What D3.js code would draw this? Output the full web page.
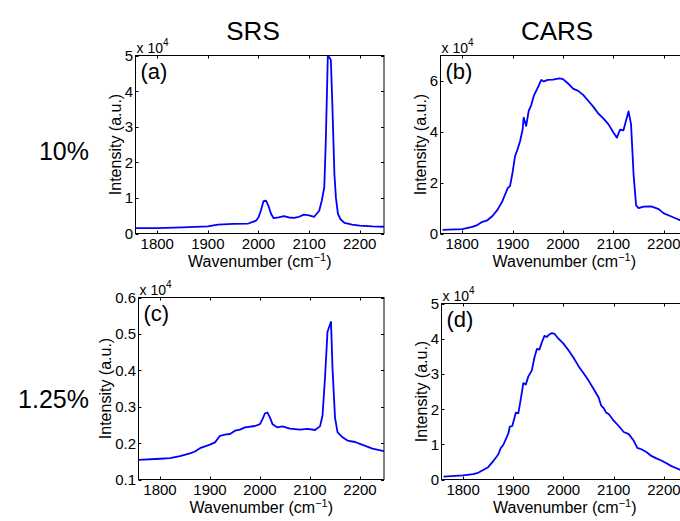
<!DOCTYPE html>
<html>
<head>
<meta charset="utf-8">
<script src="https://cdn.jsdelivr.net/npm/d3@7"></script>
<style>
  body { margin: 0; background: #fff; }
  text { font-family: "Liberation Sans", Arial, sans-serif; fill: #000; }
</style>
</head>
<body>
<svg id="fig" width="680" height="521"></svg>
<script>
// spectra: [wavenumber (cm^-1), intensity (a.u.)]
const srs10 = [[1757,1500],[1800,1500],[1850,1700],[1900,2000],[1920,2500],[1950,2700],[1980,2800],[1995,3600],
  [2000,4500],[2005,6600],[2010,9100],[2015,9200],[2020,7600],[2025,5500],[2030,4300],[2040,4500],[2050,4900],
  [2060,4500],[2070,4400],[2080,4700],[2090,5300],[2100,5100],[2110,4700],[2120,6400],[2125,9200],[2130,13000],
  [2133,26000],[2137,49800],[2140,49500],[2143,48700],[2146,36000],[2150,16700],[2153,10000],[2157,5500],
  [2162,4000],[2170,3000],[2185,2500],[2200,2200],[2225,2000],[2248,1900]];

const cars10 = [[1761,1400],[1800,1700],[1820,2600],[1830,3300],[1840,4600],[1850,5200],[1860,6900],[1870,9300],
  [1880,12800],[1890,17700],[1895,18700],[1900,24000],[1905,30500],[1910,33200],[1915,36400],[1920,41000],
  [1922,45600],[1927,42300],[1932,48200],[1937,50500],[1942,54100],[1950,57400],[1957,60400],[1962,59800],
  [1970,60400],[1980,60500],[1993,61000],[2000,60700],[2010,59000],[2020,57000],[2030,56100],[2040,54500],
  [2050,52200],[2060,49900],[2070,47200],[2080,45300],[2090,43000],[2100,39700],[2107,37700],[2113,40800],
  [2120,40600],[2125,44300],[2130,48000],[2135,43000],[2140,23300],[2145,11100],[2150,10000],[2160,10600],
  [2175,10700],[2190,9600],[2200,7900],[2215,6700],[2230,5400],[2248,4500]];

const srs125 = [[1757,1540],[1800,1570],[1820,1590],[1840,1640],[1860,1720],[1870,1770],[1880,1860],[1900,1960],
  [1910,2020],[1920,2200],[1930,2230],[1940,2250],[1950,2340],[1960,2370],[1970,2430],[1990,2470],[2000,2520],
  [2005,2660],[2010,2820],[2015,2840],[2020,2700],[2025,2520],[2035,2430],[2045,2460],[2060,2400],[2080,2370],
  [2095,2390],[2110,2360],[2120,2460],[2125,2750],[2130,3790],[2135,5060],[2140,5260],[2142,5330],[2145,4060],
  [2150,2700],[2155,2300],[2165,2160],[2175,2070],[2190,2030],[2200,1980],[2225,1850],[2248,1780]];

const cars125 = [[1761,800],[1800,1200],[1820,1500],[1830,1900],[1840,2700],[1850,3500],[1860,5200],[1870,7100],
  [1875,8900],[1880,9800],[1890,13000],[1893,15000],[1898,15200],[1905,19000],[1910,18800],[1915,22900],
  [1920,27400],[1925,27000],[1930,29300],[1937,31000],[1942,34600],[1947,37100],[1952,36900],[1957,39000],
  [1962,40800],[1967,40500],[1972,41200],[1977,41600],[1982,41400],[1990,40000],[2000,38600],[2010,36700],
  [2020,34600],[2030,32200],[2040,30200],[2050,28100],[2060,25700],[2070,23300],[2075,21000],[2080,20300],
  [2085,19000],[2090,18600],[2100,16700],[2110,15200],[2120,13500],[2130,12900],[2140,11000],[2147,9000],
  [2155,8600],[2165,7800],[2175,6700],[2185,6000],[2195,5400],[2205,4600],[2215,3800],[2225,3200],
  [2235,2600],[2248,2000]];

const columnTitles = ["SRS", "CARS"];
const rowTitles = ["10%", "1.25%"];
const panelLetters = ["(a)", "(b)", "(c)", "(d)"];
const xRange = [1757, 2248];
const xTicks = [1800, 1900, 2000, 2100, 2200];
const yTicksA = [0, 10000, 20000, 30000, 40000, 50000];
const yTicksB = [0, 20000, 40000, 60000];
const yTicksC = [1000, 2000, 3000, 4000, 5000, 6000];
const yTicksD = [0, 10000, 20000, 30000, 40000, 50000];

// subplot boxes (pixels): left, right, top, bottom
const panels = [
  { data: srs10,  yDom: [0, 50000],    yTicks: yTicksA, fmt: d => d / 1e4,              box: [135.5, 384, 55.5, 233.5] },
  { data: cars10, yDom: [0, 70000],    yTicks: yTicksB, fmt: d => d / 1e4,              box: [440.5, 688, 55.5, 233.5] },
  { data: srs125, yDom: [1000, 6000],  yTicks: yTicksC, fmt: d => (d / 1e4).toFixed(1), box: [138.5, 384, 297.5, 479.5] },
  { data: cars125, yDom: [0, 50000],   yTicks: yTicksD, fmt: d => d / 1e4,              box: [441.5, 688, 303.5, 479.5] }
];

const svg = d3.select("#fig");
const tickLen = 3;

panels.forEach((p, i) => {
  const [l, r, t, b] = p.box;
  const x = d3.scaleLinear().domain(xRange).range([l, r]);
  const y = d3.scaleLinear().domain(p.yDom).range([b, t]);
  const g = svg.append("g");

  g.append("clipPath").attr("id", "clip" + i)
    .append("rect").attr("x", l).attr("y", t - 1).attr("width", r - l).attr("height", b - t + 1);

  // ticks on all four sides, pointing inwards
  xTicks.forEach(v => {
    const xv = Math.round(x(v)) + 0.5;
    g.append("line").attr("x1", xv).attr("x2", xv).attr("y1", b).attr("y2", b - tickLen).attr("stroke", "#000");
    g.append("line").attr("x1", xv).attr("x2", xv).attr("y1", t).attr("y2", t + tickLen).attr("stroke", "#000");
    g.append("text").attr("x", x(v)).attr("y", b + 15).attr("text-anchor", "middle")
      .style("font-size", "15px").text(v);
  });
  let maxW = 0;
  p.yTicks.forEach(v => {
    const yv = Math.round(y(v)) + 0.5;
    g.append("line").attr("x1", l).attr("x2", l + tickLen).attr("y1", yv).attr("y2", yv).attr("stroke", "#000");
    g.append("line").attr("x1", r).attr("x2", r - tickLen).attr("y1", yv).attr("y2", yv).attr("stroke", "#000");
    const tx = g.append("text").attr("x", l - 2.5).attr("y", y(v)).attr("dy", "0.36em")
      .attr("text-anchor", "end").style("font-size", "15px").text(p.fmt(v));
    maxW = Math.max(maxW, tx.node().getComputedTextLength());
  });

  // spectrum
  const line = d3.line().x(d => x(d[0])).y(d => y(d[1]));
  g.append("path").datum(p.data).attr("d", line)
    .attr("clip-path", `url(#clip${i})`)
    .attr("fill", "none").attr("stroke", "#0000ff").attr("stroke-width", 1.8)
    .attr("stroke-linejoin", "round");

  g.append("rect").attr("x", l).attr("y", t).attr("width", r - l).attr("height", b - t)
    .attr("fill", "none").attr("stroke", "#000").attr("stroke-width", 1);

  // exponent label
  const ex = g.append("text").attr("x", l + 1).attr("y", t - 3).style("font-size", "14px");
  ex.append("tspan").text("x 10");
  ex.append("tspan").attr("dy", -7).style("font-size", "10px").text("4");

  g.append("text").attr("x", l + 5).attr("y", t + 23).style("font-size", "22px").text(panelLetters[i]);

  g.append("text").attr("x", (l + r) / 2).attr("y", b + 33).attr("text-anchor", "middle")
    .style("font-size", "16px")
    .call(s => {
      s.append("tspan").text("Wavenumber (cm");
      s.append("tspan").attr("dy", -6).style("font-size", "11px").text("\u22121");
      s.append("tspan").attr("dy", 6).text(")");
    });

  const yl = l - 2.5 - maxW - 4;
  g.append("text").attr("transform", `translate(${yl},${(t + b) / 2}) rotate(-90)`)
    .attr("text-anchor", "middle").style("font-size", "16px").text("Intensity (a.u.)");
});

svg.selectAll(".coltitle").data(columnTitles).enter().append("text")
  .attr("x", (d, i) => [253, 557][i]).attr("y", 40).attr("text-anchor", "middle")
  .style("font-size", "26px").text(d => d);

svg.selectAll(".rowtitle").data(rowTitles).enter().append("text")
  .attr("x", 89).attr("y", (d, i) => [160, 408][i]).attr("text-anchor", "end")
  .style("font-size", "25px").text(d => d);
</script>
</body>
</html>
